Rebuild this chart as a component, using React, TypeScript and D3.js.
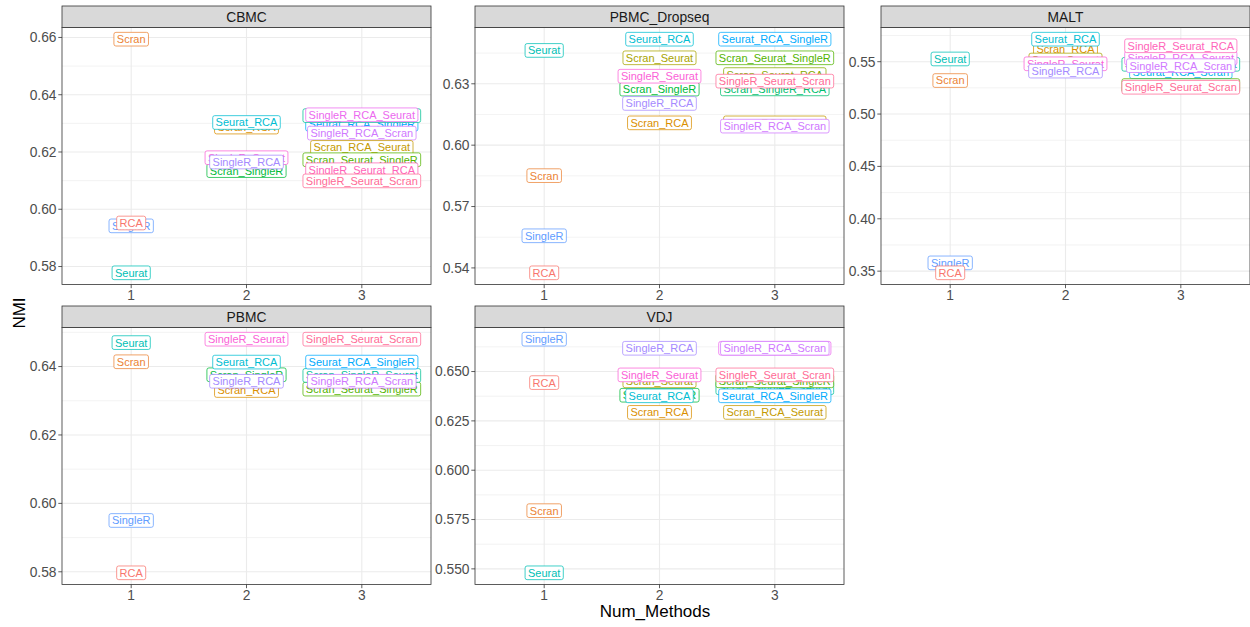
import React from 'react';
import * as d3 from 'd3';

// Factor levels of the method combinations (alphabetical, as used for the hue palette)
const methodLevels = [
  'RCA', 'Scran', 'Scran_RCA', 'Scran_RCA_Seurat', 'Scran_Seurat', 'Scran_Seurat_RCA',
  'Scran_Seurat_SingleR', 'Scran_SingleR', 'Scran_SingleR_RCA', 'Scran_SingleR_Seurat',
  'Seurat', 'Seurat_RCA', 'Seurat_RCA_Scran', 'Seurat_RCA_SingleR', 'SingleR', 'SingleR_RCA',
  'SingleR_RCA_Scran', 'SingleR_RCA_Seurat', 'SingleR_Seurat', 'SingleR_Seurat_RCA',
  'SingleR_Seurat_Scran',
];

const datasetNames = ['CBMC', 'PBMC_Dropseq', 'MALT', 'PBMC', 'VDJ'];

// CBMC
const cbmcMethods = [
  'Seurat', 'SingleR', 'RCA', 'Scran',
  'Scran_RCA', 'Seurat_RCA', 'Scran_SingleR', 'SingleR_Seurat', 'SingleR_RCA',
  'Seurat_RCA_SingleR', 'Scran_SingleR_Seurat', 'SingleR_RCA_Seurat', 'SingleR_RCA_Scran',
  'Scran_RCA_Seurat', 'Scran_Seurat_SingleR', 'SingleR_Seurat_RCA', 'SingleR_Seurat_Scran',
];
const cbmcNMI = [
  0.5778, 0.5942, 0.5952, 0.6594,
  0.6287, 0.6303, 0.6135, 0.6180, 0.6165,
  0.6297, 0.6327, 0.6330, 0.6266,
  0.6216, 0.6173, 0.6138, 0.6099,
];
const cbmcTicks = [0.58, 0.60, 0.62, 0.64, 0.66];

// PBMC_Dropseq
const dropseqMethods = [
  'Seurat', 'Scran', 'SingleR', 'RCA',
  'Seurat_RCA', 'Scran_Seurat', 'Scran_SingleR', 'SingleR_Seurat', 'SingleR_RCA', 'Scran_RCA',
  'Seurat_RCA_SingleR', 'Scran_Seurat_SingleR', 'Scran_Seurat_RCA', 'Scran_SingleR_RCA',
  'SingleR_Seurat_Scran', 'Scran_RCA_Seurat', 'SingleR_RCA_Scran',
];
const dropseqNMI = [
  0.6463, 0.5851, 0.5557, 0.5376,
  0.6518, 0.6427, 0.6274, 0.6337, 0.6204, 0.6109,
  0.6518, 0.6427, 0.6345, 0.6275,
  0.6313, 0.6109, 0.6093,
];
const dropseqTicks = [0.54, 0.57, 0.60, 0.63];

// MALT
const maltMethods = [
  'Seurat', 'Scran', 'SingleR', 'RCA',
  'Scran_RCA', 'Seurat_RCA', 'Scran_Seurat', 'SingleR_Seurat', 'SingleR_RCA',
  'Scran_SingleR_Seurat', 'SingleR_RCA_Seurat', 'Seurat_RCA_Scran', 'SingleR_Seurat_RCA',
  'SingleR_RCA_Scran', 'Scran_Seurat_SingleR', 'SingleR_Seurat_Scran',
];
const maltNMI = [
  0.5526, 0.5320, 0.3579, 0.3484,
  0.5621, 0.5715, 0.5516, 0.5480, 0.5410,
  0.5475, 0.5535, 0.5405, 0.5652,
  0.5462, 0.5272, 0.5256,
];
const maltTicks = [0.35, 0.40, 0.45, 0.50, 0.55];

// PBMC
const pbmcMethods = [
  'Seurat', 'Scran', 'SingleR', 'RCA',
  'Scran_RCA', 'Scran_SingleR', 'SingleR_RCA', 'Seurat_RCA', 'SingleR_Seurat',
  'Scran_Seurat_SingleR', 'Scran_SingleR_Seurat', 'SingleR_RCA_Scran', 'Seurat_RCA_SingleR',
  'SingleR_Seurat_Scran',
];
const pbmcNMI = [
  0.6470, 0.6414, 0.5950, 0.5797,
  0.6330, 0.6376, 0.6357, 0.6413, 0.6480,
  0.6334, 0.6374, 0.6357, 0.6413,
  0.6480,
];
const pbmcTicks = [0.58, 0.60, 0.62, 0.64];

// VDJ
const vdjMethods = [
  'SingleR', 'RCA', 'Scran', 'Seurat',
  'SingleR_RCA', 'Scran_RCA', 'Scran_SingleR', 'Scran_Seurat', 'SingleR_Seurat', 'Seurat_RCA',
  'SingleR_RCA_Seurat', 'SingleR_RCA_Scran', 'Scran_SingleR_Seurat', 'Scran_Seurat_SingleR',
  'SingleR_Seurat_Scran', 'Seurat_RCA_SingleR', 'Scran_RCA_Seurat',
];
const vdjNMI = [
  0.6664, 0.6444, 0.5795, 0.5480,
  0.6618, 0.6293, 0.6380, 0.6453, 0.6483, 0.6377,
  0.6618, 0.6618, 0.6418, 0.6453,
  0.6483, 0.6377, 0.6293,
];
const vdjTicks = [0.550, 0.575, 0.600, 0.625, 0.650];

const numMethodTicks = [1, 2, 3];

const panelMethods = [cbmcMethods, dropseqMethods, maltMethods, pbmcMethods, vdjMethods];
const panelValues = [cbmcNMI, dropseqNMI, maltNMI, pbmcNMI, vdjNMI];
const panelTicks = [cbmcTicks, dropseqTicks, maltTicks, pbmcTicks, vdjTicks];
const panelDigits = [2, 2, 2, 2, 3];

// ---- layout ----
const W = 1250;
const H = 627;
const COL_LEFT = [62, 475, 881];
const PANEL_W = 369;
const ROW_TOP = [6, 306];
const STRIP_H = 21.5;
const PANEL_SPAN = 278.5;
const FONT = "'Liberation Sans', Arial, Helvetica, sans-serif";
const AXIS_SIZE = 13.8;
const LABEL_SIZE = 11;
const LABEL_PAD = 2.9;

// HCL (polar CIE-Luv) to sRGB, the same conversion as R's hcl()
function hclColor(h: number, c: number, l: number): string {
  const WX = 95.047, WY = 100.0, WZ = 108.883;
  const wu = (4 * WX) / (WX + 15 * WY + 3 * WZ);
  const wv = (9 * WY) / (WX + 15 * WY + 3 * WZ);
  const hr = (h * Math.PI) / 180;
  const U = c * Math.cos(hr);
  const V = c * Math.sin(hr);
  const Y = WY * (l > 7.999592 ? Math.pow((l + 16) / 116, 3) : l / 903.3);
  const u = U / (13 * l) + wu;
  const v = V / (13 * l) + wv;
  const X = (9.0 * Y * u) / (4 * v);
  const Z = -X / 3 - 5 * Y + (3 * Y) / v;
  const g = (t: number) => (t > 0.00304 ? 1.055 * Math.pow(t, 1 / 2.4) - 0.055 : 12.92 * t);
  const R = g((3.240479 * X - 1.53715 * Y - 0.498535 * Z) / WY);
  const G = g((-0.969256 * X + 1.875992 * Y + 0.041556 * Z) / WY);
  const B = g((0.055648 * X - 0.204043 * Y + 1.057311 * Z) / WY);
  const clamp = (t: number) => Math.round(Math.max(0, Math.min(1, t)) * 255);
  return d3.rgb(clamp(R), clamp(G), clamp(B)).formatHex();
}

const colorScale = d3
  .scaleOrdinal<string, string>()
  .domain(methodLevels)
  .range(methodLevels.map((_, i) => hclColor(15 + (360 * i) / methodLevels.length, 100, 65)));

let measureCtx: CanvasRenderingContext2D | null = null;
function textWidth(s: string, size: number): number {
  if (!measureCtx) measureCtx = document.createElement('canvas').getContext('2d');
  if (!measureCtx) return s.length * size * 0.55;
  measureCtx.font = `${size}px ${FONT}`;
  return measureCtx.measureText(s).width;
}

function Panel({ idx }: { idx: number }) {
  const name = datasetNames[idx];
  const methods = panelMethods[idx];
  const values = panelValues[idx];
  const ticks = panelTicks[idx];
  const fmt = d3.format(`.${panelDigits[idx]}f`);

  const row = Math.floor(idx / 3);
  const col = idx % 3;
  const left = COL_LEFT[col];
  const right = left + PANEL_W;
  const stripTop = ROW_TOP[row];
  const top = stripTop + STRIP_H;
  const bottom = stripTop + PANEL_SPAN;

  const x = d3.scaleLinear().domain([0.4, 3.6]).range([left, right]);
  const [lo, hi] = d3.extent(values) as [number, number];
  const pad = (hi - lo) * 0.05;
  const y = d3.scaleLinear().domain([lo - pad, hi + pad]).range([bottom, top]);
  const [d0, d1] = y.domain();
  const step = ticks[1] - ticks[0];
  const minors = [ticks[0] - step / 2, ...ticks.map((t) => t + step / 2)].filter((v) => v > d0 && v < d1);

  const clipId = `clip-${idx}`;
  const capH = LABEL_SIZE * 0.716;
  const boxH = capH + 2 * LABEL_PAD;

  return (
    <g>
      <defs>
        <clipPath id={clipId}>
          <rect x={left} y={top} width={PANEL_W} height={bottom - top} />
        </clipPath>
      </defs>
      <rect x={left} y={top} width={PANEL_W} height={bottom - top} fill="#ffffff" />
      {/* grid */}
      {minors.map((v) => (
        <line key={`mn${v}`} x1={left} x2={right} y1={y(v)} y2={y(v)} stroke="#EBEBEB" strokeWidth={0.6} />
      ))}
      {ticks.map((v) => (
        <line key={`mj${v}`} x1={left} x2={right} y1={y(v)} y2={y(v)} stroke="#EBEBEB" strokeWidth={1.1} />
      ))}
      {numMethodTicks.map((v) => (
        <line key={`xv${v}`} x1={x(v)} x2={x(v)} y1={top} y2={bottom} stroke="#EBEBEB" strokeWidth={1.1} />
      ))}
      {/* labels */}
      <g clipPath={`url(#${clipId})`}>
        {methods.map((m, i) => {
          const cx = x(m.split('_').length);
          const cy = y(values[i]);
          const tw = textWidth(m, LABEL_SIZE);
          const bw = tw + 2 * LABEL_PAD;
          const color = colorScale(m);
          return (
            <g key={`${m}-${i}`}>
              <rect
                x={cx - bw / 2}
                y={cy - boxH / 2}
                width={bw}
                height={boxH}
                rx={2}
                ry={2}
                fill="#ffffff"
                stroke={color}
                strokeWidth={0.75}
              />
              <text
                x={cx}
                y={cy + capH / 2}
                textAnchor="middle"
                fontSize={LABEL_SIZE}
                fontFamily={FONT}
                fill={color}
              >
                {m}
              </text>
            </g>
          );
        })}
      </g>
      {/* border */}
      <rect x={left} y={top} width={PANEL_W} height={bottom - top} fill="none" stroke="#333333" strokeWidth={0.8} />
      {/* strip */}
      <rect x={left} y={stripTop} width={PANEL_W} height={STRIP_H} fill="#D9D9D9" stroke="#333333" strokeWidth={0.8} />
      <text
        x={(left + right) / 2}
        y={stripTop + STRIP_H / 2 + (AXIS_SIZE * 0.716) / 2}
        textAnchor="middle"
        fontSize={AXIS_SIZE}
        fontFamily={FONT}
        fill="#1A1A1A"
      >
        {name}
      </text>
      {/* y axis */}
      {ticks.map((v) => (
        <g key={`yt${v}`}>
          <line x1={left - 3.7} x2={left} y1={y(v)} y2={y(v)} stroke="#333333" strokeWidth={0.8} />
          <text
            x={left - 5.5}
            y={y(v) + (AXIS_SIZE * 0.716) / 2}
            textAnchor="end"
            fontSize={AXIS_SIZE}
            fontFamily={FONT}
            fill="#4D4D4D"
          >
            {fmt(v)}
          </text>
        </g>
      ))}
      {/* x axis */}
      {numMethodTicks.map((v) => (
        <g key={`xt${v}`}>
          <line x1={x(v)} x2={x(v)} y1={bottom} y2={bottom + 3.7} stroke="#333333" strokeWidth={0.8} />
          <text
            x={x(v)}
            y={bottom + 15}
            textAnchor="middle"
            fontSize={AXIS_SIZE}
            fontFamily={FONT}
            fill="#4D4D4D"
          >
            {String(v)}
          </text>
        </g>
      ))}
    </g>
  );
}

export default function App() {
  return (
    <svg
      width={W}
      height={H}
      viewBox={`0 0 ${W} ${H}`}
      style={{ position: 'absolute', left: 0, top: 0, background: '#ffffff' }}
    >
      <rect x={0} y={0} width={W} height={H} fill="#ffffff" />
      {datasetNames.map((_, i) => (
        <Panel key={i} idx={i} />
      ))}
      <text x={655} y={617} textAnchor="middle" fontSize={17} fontFamily={FONT} fill="#000000">
        Num_Methods
      </text>
      <text
        transform="translate(25,313) rotate(-90)"
        textAnchor="middle"
        fontSize={17}
        fontFamily={FONT}
        fill="#000000"
      >
        NMI
      </text>
    </svg>
  );
}
